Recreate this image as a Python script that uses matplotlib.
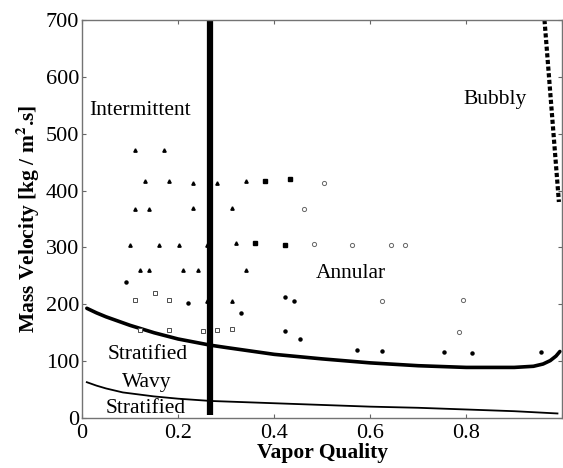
import matplotlib
matplotlib.use("Agg")
import matplotlib.pyplot as plt

plt.rcParams['font.family'] = ['Liberation Serif', 'DejaVu Serif']
plt.rcParams['mathtext.fontset'] = 'stix'

# boundary curves (vapor quality, mass velocity)
wavy_x = [0.01, 0.03, 0.05, 0.1, 0.15, 0.2, 0.268, 0.3, 0.4, 0.5, 0.6, 0.7, 0.8, 0.9, 0.94, 0.96,
          0.975, 0.987, 0.995]
wavy_g = [193, 185, 178, 163, 150, 139, 128, 124, 112, 104, 97, 92, 89, 89, 91, 95, 101, 109, 117]

strat_x = [0.01, 0.03, 0.05, 0.085, 0.15, 0.2, 0.268, 0.4, 0.5, 0.6, 0.7, 0.8, 0.9, 0.99]
strat_g = [63, 57, 52, 45, 38, 34, 30, 26, 23, 20, 18, 15, 12, 8]

inter_x = [0.266, 0.266]
inter_g = [5, 700]

bubbly_x = [0.963, 0.993]
bubbly_g = [700, 380]

# measured points
tri_x = [0.110, 0.171, 0.131, 0.181, 0.231, 0.281, 0.342, 0.110, 0.140, 0.231, 0.312,
         0.100, 0.161, 0.201, 0.260, 0.321, 0.120, 0.140, 0.211, 0.241, 0.342, 0.260, 0.312]
tri_g = [472, 471, 416, 416, 414, 414, 416, 368, 368, 370, 370,
         304, 305, 305, 305, 307, 261, 261, 260, 260, 261, 206, 206]

sq_x = [0.381, 0.361, 0.433, 0.422]
sq_g = [417, 307, 420, 305]

dot_x = [0.091, 0.221, 0.332, 0.422, 0.442, 0.422, 0.453, 0.572, 0.624, 0.754, 0.813, 0.955]
dot_g = [240, 202, 185, 213, 206, 153, 139, 120, 117, 116, 115, 116]

osq_x = [0.111, 0.152, 0.181, 0.120, 0.181, 0.251, 0.281, 0.312]
osq_g = [208, 220, 208, 155, 154, 153, 154, 157]

ocir_x = [0.503, 0.463, 0.482, 0.562, 0.643, 0.673, 0.624, 0.793, 0.784]
ocir_g = [414, 368, 306, 305, 304, 305, 206, 207, 152]

regions = ['Intermittent', 'Bubbly', 'Annular', 'Stratified\nWavy', 'Stratified']

fig = plt.figure(figsize=(5.63, 4.68), dpi=100)
ax = fig.add_axes([0.1457, 0.1068, 0.853, 0.8504])

ax.plot(wavy_x, wavy_g, color='k', lw=2.6, solid_capstyle='round')
ax.plot(strat_x, strat_g, color='k', lw=1.3)
ax.plot(inter_x, inter_g, color='k', lw=4.5, solid_capstyle='butt')
ax.plot(bubbly_x, bubbly_g, color='k', lw=3, dashes=(1.0, 0.6))

ax.plot(tri_x, tri_g, ls='none', marker='^', ms=2.4, color='k')
ax.plot(sq_x, sq_g, ls='none', marker='s', ms=2.4, color='k')
ax.plot(dot_x, dot_g, ls='none', marker='o', ms=2.2, color='k')
ax.plot(osq_x, osq_g, ls='none', marker='s', ms=3.0, mfc='white', mec='0.3', mew=0.7)
ax.plot(ocir_x, ocir_g, ls='none', marker='o', ms=3.0, mfc='white', mec='0.4', mew=0.7)

fs = 15.5
ax.text(0.015, 540, regions[0], fontsize=fs, ha='left', va='center')
ax.text(0.86, 560, regions[1], fontsize=fs, ha='center', va='center')
ax.text(0.56, 255, regions[2], fontsize=fs, ha='center', va='center')
ax.text(0.137, 111, 'Stratified', fontsize=fs, ha='center', va='center')
ax.text(0.135, 63, 'Wavy', fontsize=fs, ha='center', va='center')
ax.text(0.133, 16, regions[4], fontsize=fs, ha='center', va='center')

ax.set_xlim(0, 1)
ax.set_ylim(0, 700)
# the label at 1 falls off the right edge of the picture
ax.set_xticks([0, 0.2, 0.4, 0.6, 0.8, 1])
ax.set_xticklabels(['0', '0.2', '0.4', '0.6', '0.8', ''])
ax.set_yticks(range(0, 701, 100))

ax.tick_params(direction='in', length=3, width=0.8, color='0.4', labelsize=16,
               top=True, right=True)
ax.tick_params(axis='y', pad=2)
ax.tick_params(axis='x', pad=4)
for s in ax.spines.values():
    s.set_color('0.45')
    s.set_linewidth(1.0)

ax.set_xlabel('Vapor Quality', fontsize=15.5, fontweight='bold', labelpad=0)
ax.set_ylabel(r'Mass Velocity [kg / m$^\mathbf{2}$.s]', fontsize=15.5,
              fontweight='bold', labelpad=3)

fig.savefig('out.png', dpi=100)
